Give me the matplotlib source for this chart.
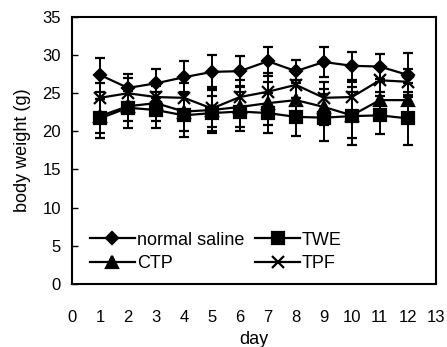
import matplotlib
matplotlib.use("Agg")
import matplotlib.pyplot as plt
from matplotlib.lines import Line2D

plt.rcParams['font.family'] = ['Liberation Sans', 'DejaVu Sans']

days = [1, 2, 3, 4, 5, 6, 7, 8, 9, 10, 11, 12]

saline = [27.4, 25.7, 26.3, 27.1, 27.8, 27.9, 29.2, 27.9, 29.1, 28.6, 28.5, 27.4]
saline_err = [2.2, 1.8, 1.9, 2.1, 2.2, 2.0, 1.9, 1.5, 2.0, 1.8, 1.6, 2.9]

twe = [21.7, 23.1, 22.8, 22.1, 22.4, 22.6, 22.4, 21.9, 21.8, 22.0, 22.1, 21.7]
twe_err = [2.6, 2.6, 2.4, 2.8, 2.3, 2.6, 2.6, 2.5, 3.1, 3.8, 2.5, 3.5]

ctp = [22.0, 23.3, 23.7, 22.6, 22.8, 23.2, 23.7, 24.1, 23.2, 22.1, 24.1, 24.1]
ctp_err = [2.2, 2.0, 2.3, 2.5, 3.0, 2.6, 2.8, 2.6, 2.4, 3.0, 2.4, 2.2]

tpf = [24.4, 25.0, 24.5, 24.4, 23.0, 24.5, 25.2, 26.1, 24.4, 24.5, 26.7, 26.5]
tpf_err = [2.0, 2.0, 2.0, 1.9, 2.4, 2.3, 2.4, 1.7, 2.1, 2.0, 1.6, 1.7]

fig = plt.figure(figsize=(4.47, 3.47), dpi=100)
ax = fig.add_axes([0.161, 0.182, 0.814, 0.769])

common = dict(color='black', lw=1.6, elinewidth=1.4, capsize=3.5, capthick=1.4)
series = [
    (saline, saline_err, 'D', 6, 'normal saline'),
    (twe, twe_err, 's', 8, 'TWE'),
    (ctp, ctp_err, '^', 8, 'CTP'),
    (tpf, tpf_err, 'x', 9, 'TPF'),
]
handles = {}
for vals, err, mk, ms, name in series:
    ax.errorbar(days, vals, yerr=err, marker=mk, ms=ms, mew=1.6, **common)
    handles[name] = Line2D([], [], color='black', lw=1.6, marker=mk, ms=ms, mew=1.6)

ax.set_xlim(0, 13)
ax.set_ylim(0, 35)
ax.set_xticks(range(0, 14))
ax.set_yticks(range(0, 36, 5))
ax.tick_params(axis='x', length=0, pad=19, labelsize=12)
ax.tick_params(axis='y', direction='in', length=4, width=1, labelsize=12, pad=8)
for s in ax.spines.values():
    s.set_linewidth(1.5)

ax.set_xlabel('day', fontsize=13, va='center')
ax.xaxis.set_label_coords(0.5, -0.21)
ax.set_ylabel('body weight (g)', fontsize=13, va='center')
ax.yaxis.set_label_coords(-0.135, 0.5)

# matplotlib fills legend columns first, so order for row-wise reading
order = ['normal saline', 'CTP', 'TWE', 'TPF']
ax.legend([handles[k] for k in order], order, loc='lower left', ncol=2,
          frameon=False, fontsize=13, handlelength=2.5, handletextpad=0.1,
          columnspacing=0.6, labelspacing=0.35, borderpad=0, borderaxespad=0,
          bbox_to_anchor=(0.049, 0.045))

fig.savefig('out.png', dpi=100)
